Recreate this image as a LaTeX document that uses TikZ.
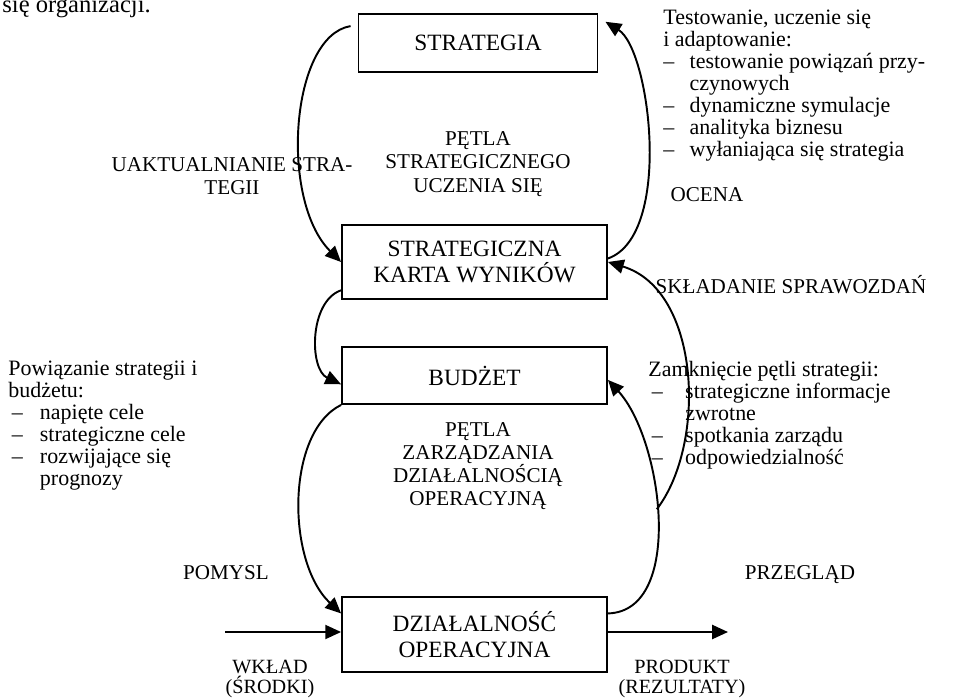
\documentclass[tikz,border=0pt]{standalone}
\usepackage{fontspec}
\setmainfont{Liberation Serif}
\usetikzlibrary{arrows.meta}
\newcommand{\dsh}[1]{\makebox[#1][l]{--}}

\begin{document}
\begin{tikzpicture}[x=0.02cm,y=-0.02cm,
  box/.style={draw,line width=1.1pt,align=center,inner sep=0pt,font=\fontsize{13.3}{14.7}\selectfont},
  flow/.style={line width=1.1pt,-{Triangle[length=9pt,width=8pt]}},
  lbl/.style={inner sep=0pt,align=center,font=\fontsize{12}{13.2}\selectfont},
  txt/.style={inner sep=0pt,align=left,anchor=north west,font=\fontsize{12.5}{12.5}\selectfont}]
\useasboundingbox (0,0) rectangle (964,697);
\node[inner sep=0pt,anchor=base west,font=\fontsize{14}{14}\selectfont] (kontekst) at (2,12) {się organizacji.};
\node[box,minimum width=4.78cm,minimum height=1.16cm] (strat) at (478,43) {STRATEGIA};
\node[box,minimum width=5.3cm,minimum height=1.48cm] (karta) at (474.5,262) {STRATEGICZNA\\KARTA WYNIKÓW};
\node[box,minimum width=5.3cm,minimum height=1.14cm] (budzet) at (474.5,375.5) {BUDŻET};
\node[box,minimum width=5.3cm,minimum height=1.5cm] (dzial) at (474.5,634.5) {DZIAŁALNOŚĆ\\OPERACYJNA};
\node[lbl] (petla1) at (478,164) {PĘTLA\\STRATEGICZNEGO\\UCZENIA SIĘ};
\node[lbl] (aktual) at (232,176) {UAKTUALNIANIE STRA-\\TEGII};
\node[lbl] (ocena) at (707,195) {OCENA};
\node[lbl] (sklad) at (791,285) {SKŁADANIE SPRAWOZDAŃ};
\node[lbl] (petla2) at (478,466) {PĘTLA\\ZARZĄDZANIA\\DZIAŁALNOŚCIĄ\\OPERACYJNĄ};
\node[lbl] (pomysl) at (226,573) {POMYSL};
\node[lbl] (przeglad) at (800,575) {PRZEGLĄD};
\node[lbl,font=\fontsize{11.5}{11.5}\selectfont] (wklad) at (270,679) {WKŁAD\\(ŚRODKI)};
\node[lbl,font=\fontsize{11.5}{11.5}\selectfont] (produkt) at (682,679) {PRODUKT\\(REZULTATY)};
\node[txt] (testy) at (663,10) {Testowanie, uczenie się\\i adaptowanie:\\\dsh{15pt}testowanie powiązań przy-\\\hspace*{15pt}czynowych\\\dsh{15pt}dynamiczne symulacje\\\dsh{15pt}analityka biznesu\\\dsh{15pt}wyłaniająca się strategia};
\node[txt] (powiazanie) at (8,361) {Powiązanie strategii i\\budżetu:\\\hspace*{2pt}\dsh{16pt}napięte cele\\\hspace*{2pt}\dsh{16pt}strategiczne cele\\\hspace*{2pt}\dsh{16pt}rozwijające się\\\hspace*{18pt}prognozy};
\node[txt] (zamkniecie) at (648,361) {Zamknięcie pętli strategii:\\\hspace*{2pt}\dsh{19pt}strategiczne informacje\\\hspace*{21pt}zwrotne\\\hspace*{2pt}\dsh{19pt}spotkania zarządu\\\hspace*{2pt}\dsh{19pt}odpowiedzialność};
\coordinate (wej) at (225,632);
\coordinate (wyj) at (728,632);
\draw[flow] ([xshift=-4pt]strat.172) .. controls +(-60,10) and +(-62,-62) .. (karta.west);
\draw[flow] ([yshift=2pt]karta.east) .. controls +(65,-23) and +(45,28) .. ([xshift=4pt]strat.10);
\draw[flow] ([yshift=5.5pt]karta.south west) .. controls +(-32,11) and +(-32,-15) .. ([yshift=-5pt]budzet.west);
\draw[flow] (budzet.south west) .. controls +(-55,27) and +(-55,-52) .. ([yshift=12pt]dzial.west);
\draw[flow] ([yshift=12pt]dzial.east) .. controls +(77,-2) and +(55,60) .. ([yshift=-2.5pt]budzet.east) coordinate[pos=0.53] (fork);
\draw[flow] (fork) .. controls +(50,-65) and +(93,28) .. (karta.east);
\draw[flow] (wej) -- (wej -| dzial.west);
\draw[flow] (wej -| dzial.east) -- (wyj);
\end{tikzpicture}
\end{document}
